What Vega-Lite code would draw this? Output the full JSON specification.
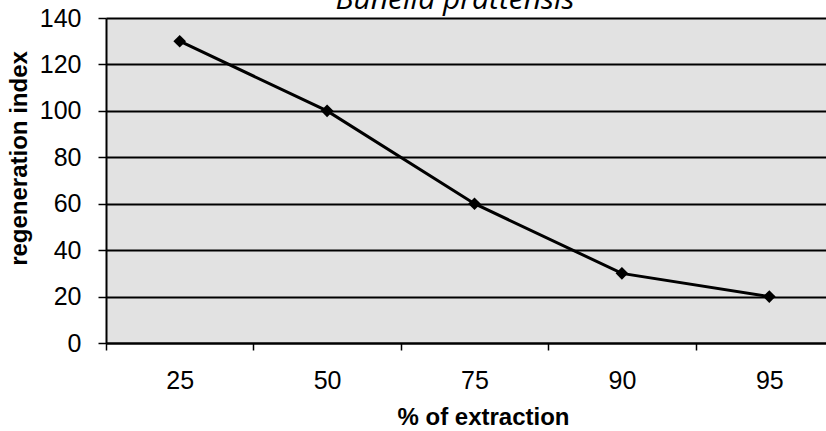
{
  "$schema": "https://vega.github.io/schema/vega-lite/v6.json",
  "autosize": {"type": "none"},
  "width": 720,
  "height": 325,
  "padding": {"left": 106, "top": 18, "right": 0, "bottom": 88},
  "background": "white",
  "config": {
    "view": {"fill": "#e2e2e2", "stroke": null},
    "font": "Liberation Sans"
  },
  "title": {
    "text": "Bunella prattensis",
    "font": "Open Sans",
    "fontStyle": "italic",
    "fontWeight": "normal",
    "fontSize": 30,
    "color": "black",
    "anchor": "middle",
    "baseline": "alphabetic",
    "offset": 0,
    "dy": 33,
    "dx": -11
  },
  "data": {
    "values": [
      {"extraction": "25", "index": 130},
      {"extraction": "50", "index": 100},
      {"extraction": "75", "index": 60},
      {"extraction": "90", "index": 30},
      {"extraction": "95", "index": 20}
    ]
  },
  "encoding": {
    "x": {
      "field": "extraction",
      "type": "ordinal",
      "sort": null,
      "scale": {"range": [0, 737], "paddingInner": 0, "paddingOuter": 0},
      "axis": {
        "title": "% of extraction",
        "titleFont": "Liberation Sans",
        "titleFontSize": 24,
        "titleFontWeight": "bold",
        "titleColor": "black",
        "titleX": 377,
        "titlePadding": 12,
        "labelAngle": 0,
        "labelFontSize": 25,
        "labelColor": "black",
        "labelPadding": 18,
        "tickBand": "extent",
        "tickSize": 7,
        "tickColor": "black",
        "tickWidth": 1.5,
        "domainColor": "black",
        "domainWidth": 2,
        "grid": false
      }
    },
    "y": {
      "field": "index",
      "type": "quantitative",
      "scale": {"domain": [0, 140], "nice": false},
      "axis": {
        "title": "regeneration index",
        "titleFont": "Liberation Sans",
        "titleFontSize": 24,
        "titleFontWeight": "bold",
        "titleColor": "black",
        "titleX": -75,
        "titleY": 140,
        "titleBaseline": "bottom",
        "values": [0, 20, 40, 60, 80, 100, 120, 140],
        "labelFontSize": 25,
        "labelColor": "black",
        "labelPadding": 17,
        "tickSize": 8,
        "tickColor": "black",
        "tickWidth": 1.5,
        "domainColor": "black",
        "domainWidth": 2,
        "grid": true,
        "gridColor": "black",
        "gridWidth": 2,
        "gridOpacity": 1
      }
    }
  },
  "layer": [
    {"mark": {"type": "line", "color": "black", "strokeWidth": 3}},
    {"mark": {"type": "point", "shape": "diamond", "filled": true, "color": "black", "size": 160, "opacity": 1}}
  ]
}
